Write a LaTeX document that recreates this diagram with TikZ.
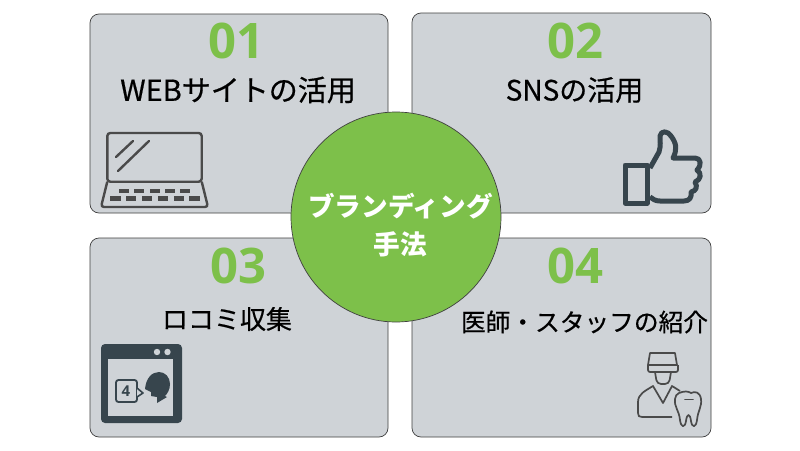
\documentclass[tikz,border=0pt]{standalone}
\usepackage{fontspec}
\setmainfont{Noto Sans CJK JP}
\newfontfamily\numfont{Open Sans}
\newfontfamily\titlefont[FakeBold=0.5]{Noto Sans CJK JP}
\definecolor{panelgray}{HTML}{CFD3D7}
\definecolor{leafgreen}{HTML}{7DC04A}
\definecolor{icondark}{HTML}{37454D}
\definecolor{icongray}{HTML}{4A4A4A}
\tikzset{
	panel/.style={draw=black!75, line width=0.7pt, fill=panelgray, rounded corners=9pt},
	numlabel/.style={text=leafgreen, font=\numfont\fontsize{49}{49}\selectfont\bfseries},
	titlelabel/.style={text=black, font=\titlefont\fontsize{#1}{#1}\selectfont},
	centerlabel/.style={text=white, font=\fontsize{26.6}{38}\selectfont\bfseries, align=center},
	laptopline/.style={line width=2.4pt, color=icongray},
	dentline/.style={line width=1.7pt, color=icongray, line join=round},
}
\begin{document}
\begin{tikzpicture}[x=1pt, y=-1pt]
			%%%%% START %%%%%
			\useasboundingbox (0, 0) rectangle (800, 450);
			\fill[white] (0, 0) rectangle (800, 450);
			
			\draw[panel] (90, 14) rectangle (388, 213);
			\draw[panel] (412, 13) rectangle (711, 213);
			\draw[panel] (90, 238) rectangle (388, 437);
			\draw[panel] (412, 238) rectangle (711, 437);
			
			\node[numlabel] (num1) at (236, 41) {01};
			\node[numlabel] (num2) at (575, 41) {02};
			\node[numlabel] (num3) at (238.5, 266) {03};
			\node[numlabel] (num4) at (575, 266) {04};
			
			\node[titlelabel=29] (title1) at (238, 90) {WEBサイトの活用};
			\node[titlelabel=28] (title2) at (574.5, 90) {SNSの活用};
			\node[titlelabel=26] (title3) at (227, 319) {ロコミ収集};
			\node[titlelabel=24.7] (title4) at (584.5, 322) {医師・スタッフの紹介};
			
			% laptop
			\draw[laptopline, rounded corners=3pt] (107.3, 181.7) -- (107.3, 133) -- (201.7, 133) -- (201.7, 181.7) -- cycle;
			\draw[laptopline, rounded corners=3pt] (107.3, 181.7) -- (101, 207) -- (208, 207) -- (201.7, 181.7);
			\draw[laptopline, line cap=round] (116, 157) -- (133, 141);
			\draw[laptopline, line cap=round] (118, 171) -- (149, 141);
			\foreach \xk in {119, 134, 149.5, 164.5, 179.5} {
				\fill[icongray] (\xk, 188.5) rectangle (\xk+10, 193);
			}
			\foreach \xk in {110, 125.5, 141.5, 157.5, 173.5, 189} {
				\fill[icongray] (\xk, 196) rectangle (\xk+10.5, 200.5);
			}
			
			% thumb
			\draw[line width=5pt, color=icondark, line join=round] (625, 165) rectangle (647, 203);
			\draw[line width=5pt, color=icondark, line join=round] (650, 168) -- (659, 152) .. controls (661, 146) and (660, 140) .. (660, 136) .. controls (661, 130) and (668, 131) .. (671, 136) .. controls (677, 144) and (677, 150) .. (673, 158) -- (695, 158) .. controls (701, 158) and (702, 165) .. (697, 170) .. controls (702, 173) and (701, 180) .. (695, 182) .. controls (698, 187) and (696, 191) .. (691, 192) .. controls (692, 198) and (689, 201) .. (684, 201) -- (660, 201) .. controls (655, 201) and (653, 199) .. (650, 197);
			
			% browser
			\fill[icondark, rounded corners=4pt] (101, 344) rectangle (182, 423);
			\fill[panelgray] (108, 359) rectangle (173, 416);
			\fill[panelgray] (157, 352) circle (3.2);
			\fill[panelgray] (167.5, 352) circle (3.2);
			\draw[line width=1.8pt, color=icondark, rounded corners=2.5pt] (116, 380) rectangle (137, 402);
			\node[text=icondark, font=\numfont\fontsize{15}{15}\selectfont\bfseries] (speech) at (126, 391) {4};
			\draw[line width=1.6pt, color=icondark, fill=panelgray, line join=round] (137, 388) -- (143, 393) -- (137, 397);
			\fill[icondark] (145, 389) .. controls (146, 378) and (152, 372) .. (159, 372) .. controls (165, 372) and (170, 377) .. (170, 384) .. controls (170, 390) and (167, 394) .. (165, 396) -- (167, 397) -- (157, 403) -- (157, 397) -- (151, 396) -- (151, 392) -- cycle;
			
			% doctor
			\draw[dentline] (650, 353) -- (675, 353) -- (677, 365) -- (648, 365) -- cycle;
			\draw[dentline, rounded corners=2pt] (648, 365) -- (648, 372) -- (678, 372) -- (678, 365);
			\draw[dentline, rounded corners=4pt] (655, 372) -- (657, 384) -- (669, 384) -- (671, 372);
			\draw[dentline] (672, 417) -- (642, 417) .. controls (639, 417) and (638, 416) .. (638, 413) -- (638, 402) .. controls (638, 394) and (645, 391) .. (653, 386) -- (663, 403) -- (672, 386) -- (680, 391);
			\draw[dentline, fill=panelgray] (679, 393) .. controls (684, 391) and (688, 391) .. (691, 393) .. controls (695, 391) and (700, 392) .. (701, 399) .. controls (702, 407) and (698, 410) .. (697, 420) .. controls (696, 428) and (692, 428) .. (691, 421) .. controls (690, 413) and (687, 413) .. (686, 421) .. controls (685, 428) and (681, 428) .. (680, 420) .. controls (679, 410) and (674, 407) .. (675, 399) .. controls (675, 396) and (677, 394) .. (679, 393) -- cycle;
			\draw[dentline, line cap=round] (685, 399.5) -- (693, 399.5);
			
			\draw[line width=0.7pt, color=black!75, fill=leafgreen] (396, 217) circle (105);
			\node[centerlabel] (hub) at (400.5, 225) {ブランディング\\手法};
			
			%%%%% END %%%%%
		\end{tikzpicture}
\end{document}
